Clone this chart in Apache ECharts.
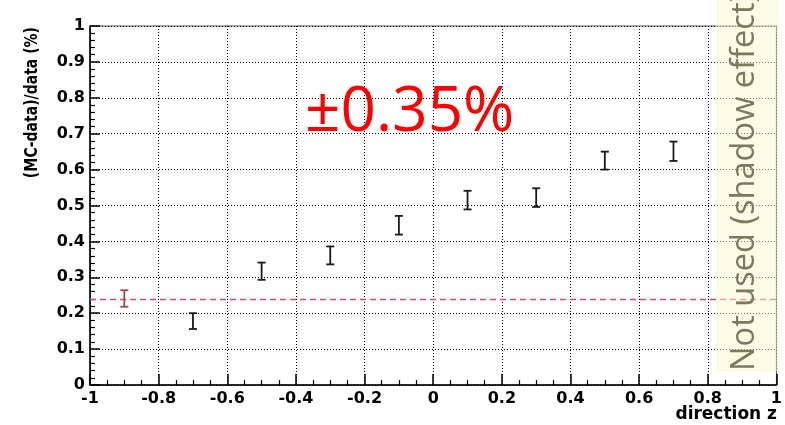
<!DOCTYPE html>
<html>
<head>
<meta charset="utf-8">
<script src="https://cdn.jsdelivr.net/npm/echarts@6/dist/echarts.min.js"></script>
<style>
  html, body { margin: 0; padding: 0; background: #ffffff; }
  #chart { width: 785px; height: 425px; }
</style>
</head>
<body>
<div id="chart"></div>
<script>
// Bin centres along the direction z axis
const directionZ = [-0.9, -0.7, -0.5, -0.3, -0.1, 0.1, 0.3, 0.5, 0.7];
// (MC-data)/data in percent for each bin
const mcDataRatio = [0.241, 0.178, 0.317, 0.361, 0.445, 0.515, 0.522, 0.625, 0.651];
// Statistical error of each bin
const ratioError = [0.023, 0.022, 0.024, 0.025, 0.026, 0.026, 0.026, 0.025, 0.027];
// Reference level taken from the first bin (dashed line)
const referenceLevel = 0.241;
// Index of the reference bin (drawn in red)
const referenceBin = 0;

const axisFont = { fontFamily: 'DejaVu Sans', fontWeight: 'bold', fontSize: 16, color: '#000' };

const points = directionZ.map((z, i) => [z, mcDataRatio[i], ratioError[i]]);

const chart = echarts.init(document.getElementById('chart'), null, { renderer: 'canvas' });

chart.setOption({
  animation: false,
  backgroundColor: '#ffffff',
  grid: {
    left: 90, right: 8, top: 26, bottom: 40,
    show: true, borderColor: '#555', borderWidth: 1, backgroundColor: 'transparent'
  },
  xAxis: {
    type: 'value', min: -1, max: 1, interval: 0.2,
    axisLine: { onZero: false, lineStyle: { color: '#000', width: 1.5 } },
    axisTick: { inside: true, length: 11, lineStyle: { color: '#000', width: 1.5 } },
    minorTick: { show: true, splitNumber: 4, length: 5, lineStyle: { color: '#000', width: 1.2 } },
    splitLine: { show: true, lineStyle: { color: '#000', width: 1, type: [1, 2] } },
    axisLabel: Object.assign({ margin: 6, formatter: v => String(+v.toFixed(1)) }, axisFont)
  },
  yAxis: {
    type: 'value', min: 0, max: 1, interval: 0.1,
    axisLine: { onZero: false, lineStyle: { color: '#000', width: 1.5 } },
    axisTick: { inside: true, length: 10, lineStyle: { color: '#000', width: 1.5 } },
    minorTick: { show: true, splitNumber: 5, length: 5, lineStyle: { color: '#000', width: 1.2 } },
    splitLine: { show: true, lineStyle: { color: '#000', width: 1, type: [1, 2] } },
    axisLabel: Object.assign({ margin: 5, formatter: v => String(+v.toFixed(1)) }, axisFont)
  },
  series: [{
    type: 'custom',
    data: points,
    z: 5,
    renderItem(params, api) {
      const z = api.value(0), r = api.value(1), e = api.value(2);
      const hi = api.coord([z, r + e]);
      const lo = api.coord([z, r - e]);
      const half = 4;
      const color = params.dataIndex === referenceBin ? '#a8434a' : '#1a1a1a';
      const style = { stroke: color, lineWidth: 1.8 };
      return {
        type: 'group',
        children: [
          { type: 'line', shape: { x1: hi[0], y1: hi[1], x2: lo[0], y2: lo[1] }, style },
          { type: 'line', shape: { x1: hi[0] - half, y1: hi[1], x2: hi[0] + half, y2: hi[1] }, style },
          { type: 'line', shape: { x1: lo[0] - half, y1: lo[1], x2: lo[0] + half, y2: lo[1] }, style }
        ]
      };
    },
    markLine: {
      silent: true,
      symbol: 'none',
      label: { show: false },
      emphasis: { disabled: true },
      lineStyle: { color: '#cf4a66', width: 1.4, type: [6, 4], opacity: 1 },
      data: [{ yAxis: referenceLevel }]
    }
  }],
  graphic: [
    {
      type: 'text', x: 32, y: 27, rotation: Math.PI / 2, scaleY: 1.3, z: 50,
      style: {
        text: '(MC-data)/data (%)', align: 'right', verticalAlign: 'middle',
        font: 'bold 14px "DejaVu Sans"', fill: '#000'
      }
    },
    {
      type: 'text', x: 777, y: 415, z: 50,
      style: {
        text: 'direction z', align: 'right', verticalAlign: 'middle',
        font: 'bold 17px "DejaVu Sans"', fill: '#000'
      }
    },
    {
      type: 'text', x: 305, y: 113, z: 50,
      style: {
        text: '±0.35%', align: 'left', verticalAlign: 'middle',
        font: '62px "Open Sans"', fill: '#ff0000'
      }
    },
    {
      type: 'rect', z: 60,
      shape: { x: 716, y: 0, width: 62, height: 372 },
      style: { fill: 'rgba(248, 248, 205, 0.5)' }
    },
    {
      type: 'text', x: 745, y: 371, rotation: Math.PI / 2, z: 61,
      style: {
        text: 'Not used (shadow effect)', align: 'left', verticalAlign: 'middle',
        font: '32.6px "Open Sans"', fill: '#7a7a5c'
      }
    }
  ]
});
</script>
</body>
</html>
